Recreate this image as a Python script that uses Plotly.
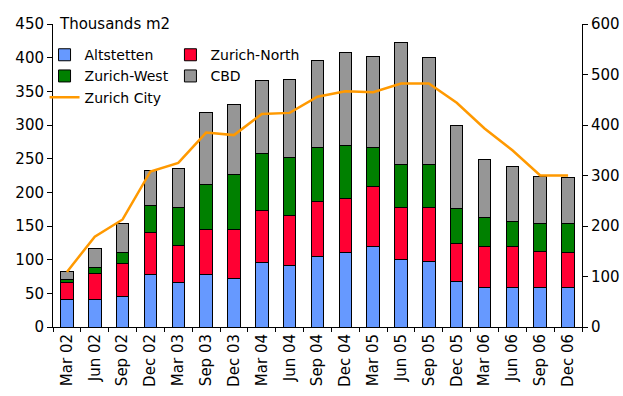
import plotly.graph_objects as go

# Quarterly office space by district (thousands m2), stacked; city total on right axis
quarters = ["Mar 02", "Jun 02", "Sep 02", "Dec 02", "Mar 03", "Sep 03", "Dec 03",
            "Mar 04", "Jun 04", "Sep 04", "Dec 04", "Mar 05", "Jun 05", "Sep 05",
            "Dec 05", "Mar 06", "Jun 06", "Sep 06", "Dec 06"]

altstetten = [41, 41, 46, 78, 66, 78, 72, 96, 91, 104, 110, 120, 100, 98, 68, 59, 59, 59, 59]
zurich_north = [25, 39, 48, 62, 55, 67, 73, 77, 75, 83, 81, 88, 78, 80, 56, 61, 61, 53, 51]
zurich_west = [5, 8, 16, 41, 56, 67, 82, 84, 86, 79, 79, 58, 64, 64, 52, 43, 36, 41, 43]
cbd = [11, 29, 43, 51, 59, 106, 103, 109, 116, 130, 137, 136, 180, 158, 123, 86, 83, 71, 69]
zurich_city = [109, 179, 213, 308, 325, 385, 380, 422, 424, 456, 467, 465, 482, 482,
               444, 393, 350, 300, 300]

FONT = "DejaVu Sans"
outline = dict(color="black", width=1)

fig = go.Figure()
fig.add_trace(go.Bar(x=quarters, y=altstetten, name="Altstetten",
                     marker=dict(color="#6699FF", line=outline), legend="legend"))
fig.add_trace(go.Bar(x=quarters, y=zurich_north, name="Zurich-North",
                     marker=dict(color="#FF0033", line=outline), legend="legend2"))
fig.add_trace(go.Bar(x=quarters, y=zurich_west, name="Zurich-West",
                     marker=dict(color="#008000", line=outline), legend="legend"))
fig.add_trace(go.Bar(x=quarters, y=cbd, name="CBD",
                     marker=dict(color="#969696", line=outline), legend="legend2"))
fig.add_trace(go.Scatter(x=quarters, y=zurich_city, name="Zurich City", mode="lines",
                         line=dict(color="#FF9900", width=2.5), yaxis="y2",
                         legend="legend"))

legend_common = dict(xanchor="left", yanchor="top", bgcolor="rgba(0,0,0,0)",
                     font=dict(family=FONT, size=14, color="black"),
                     traceorder="normal", tracegroupgap=0)

fig.update_layout(
    width=623, height=396, autosize=False,
    margin=dict(l=53, r=41, t=24, b=69, pad=0),
    plot_bgcolor="white", paper_bgcolor="white",
    barmode="stack", bargap=0.55,
    font=dict(family=FONT, size=14, color="black"),
    xaxis=dict(type="category", tickangle=-90, ticks="outside", tickson="boundaries",
               ticklen=4, tickcolor="black", showline=True, linecolor="black",
               linewidth=1, showgrid=False, automargin=False,
               tickfont=dict(family=FONT, size=15, color="black")),
    yaxis=dict(range=[0, 450], dtick=50, ticks="outside", ticklen=5, tickcolor="black",
               showline=True, linecolor="black", linewidth=1, showgrid=False,
               zeroline=False, automargin=False,
               tickfont=dict(family=FONT, size=15, color="black")),
    yaxis2=dict(range=[0, 600], dtick=100, overlaying="y", side="right",
                ticks="outside", ticklen=5, tickcolor="black", showline=True,
                linecolor="black", linewidth=1, showgrid=False, zeroline=False,
                automargin=False,
                tickfont=dict(family=FONT, size=15, color="black")),
    legend=dict(x=-0.016, y=0.95, **legend_common),
    legend2=dict(x=0.222, y=0.95, **legend_common),
    annotations=[dict(text="Thousands m2", xref="paper", yref="paper", x=0.008, y=1,
                      xanchor="left", yanchor="middle", showarrow=False,
                      font=dict(family=FONT, size=15, color="black"))],
)

fig.write_html("out.html")
